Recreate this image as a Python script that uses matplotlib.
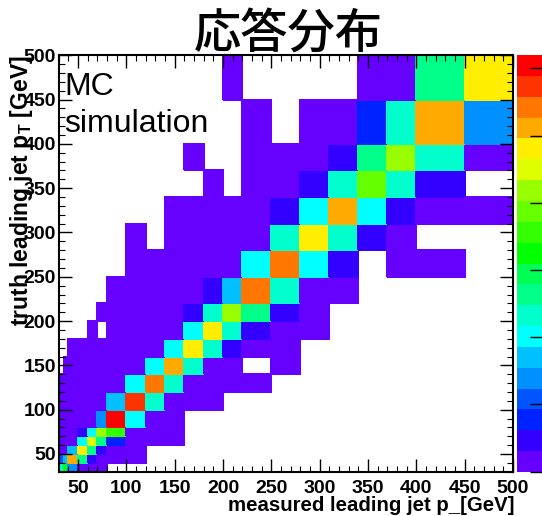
import numpy as np
import matplotlib
matplotlib.use("Agg")
import matplotlib.pyplot as plt
from matplotlib.colors import ListedColormap, BoundaryNorm

plt.rcParams['font.family'] = ['Liberation Sans', 'DejaVu Sans']
plt.rcParams['mathtext.fontset'] = 'custom'
plt.rcParams['mathtext.rm'] = 'Liberation Sans:bold'
plt.rcParams['mathtext.bf'] = 'Liberation Sans:bold'

# ---------------- data ----------------
title = "応答分布"
xlabel = "measured leading jet p_[GeV]"
ylabel = "truth leading jet p$_\\mathrm{T}$ [GeV]"
label_lines = ["MC", "simulation"]

x_edges = [30, 35, 40, 50, 60, 70, 80, 100, 120, 140, 160, 180, 200, 220, 250, 280, 310, 340, 370, 400, 450, 500]
y_edges = [30, 40, 50, 60, 70, 80, 100, 120, 140, 160, 180, 200, 220, 250, 280, 310, 340, 370, 400, 450, 500]
major_ticks = [50, 100, 150, 200, 250, 300, 350, 400, 450, 500]
tick_labels = ["50", "100", "150", "200", "250", "300", "350", "400", "450", "500"]

# colour level (1..20) of each cell, 0 = empty; rows from bottom (30-40) to top (450-500)
row_30_40   = [8, 11, 5, 1, 1, 1, 0, 0, 0, 0, 0, 0, 0, 0, 0, 0, 0, 0, 0, 0, 0]
row_40_50   = [4, 6, 17, 9, 2, 1, 1, 1, 0, 0, 0, 0, 0, 0, 0, 0, 0, 0, 0, 0, 0]
row_50_60   = [1, 1, 6, 16, 9, 2, 1, 1, 0, 0, 0, 0, 0, 0, 0, 0, 0, 0, 0, 0, 0]
row_60_70   = [1, 1, 1, 7, 15, 9, 3, 1, 1, 1, 0, 0, 0, 0, 0, 0, 0, 0, 0, 0, 0]
row_70_80   = [1, 1, 1, 2, 7, 14, 12, 1, 1, 1, 0, 0, 0, 0, 0, 0, 0, 0, 0, 0, 0]
row_80_100  = [1, 1, 1, 1, 1, 5, 20, 7, 1, 1, 0, 0, 0, 0, 0, 0, 0, 0, 0, 0, 0]
row_100_120 = [1, 1, 1, 1, 1, 1, 6, 19, 8, 1, 1, 1, 0, 0, 0, 0, 0, 0, 0, 0, 0]
row_120_140 = [1, 1, 1, 1, 1, 1, 1, 7, 18, 8, 1, 1, 1, 1, 0, 0, 0, 0, 0, 0, 0]
row_140_160 = [0, 1, 1, 1, 1, 1, 1, 1, 7, 17, 8, 1, 1, 0, 1, 0, 0, 0, 0, 0, 0]
row_160_180 = [0, 0, 1, 1, 1, 1, 1, 1, 1, 7, 16, 8, 2, 1, 1, 0, 0, 0, 0, 0, 0]
row_180_200 = [0, 0, 0, 0, 1, 0, 1, 1, 1, 1, 7, 16, 8, 2, 1, 1, 0, 0, 0, 0, 0]
row_200_220 = [0, 0, 0, 0, 0, 1, 1, 1, 1, 1, 2, 8, 14, 9, 2, 1, 0, 0, 0, 0, 0]
row_220_250 = [0, 0, 0, 0, 0, 0, 1, 1, 1, 1, 1, 2, 6, 18, 8, 1, 1, 0, 0, 0, 0]
row_250_280 = [0, 0, 0, 0, 0, 0, 0, 1, 1, 1, 1, 1, 1, 7, 18, 7, 2, 0, 1, 1, 0]
row_280_310 = [0, 0, 0, 0, 0, 0, 0, 1, 0, 1, 1, 1, 1, 1, 8, 16, 8, 2, 1, 0, 0]
row_310_340 = [0, 0, 0, 0, 0, 0, 0, 0, 0, 1, 1, 1, 1, 1, 2, 7, 17, 7, 2, 1, 1]
row_340_370 = [0, 0, 0, 0, 0, 0, 0, 0, 0, 0, 0, 1, 0, 1, 1, 2, 8, 13, 8, 2, 0]
row_370_400 = [0, 0, 0, 0, 0, 0, 0, 0, 0, 0, 1, 0, 0, 1, 1, 1, 2, 9, 14, 8, 1]
row_400_450 = [0, 0, 0, 0, 0, 0, 0, 0, 0, 0, 0, 0, 0, 1, 0, 1, 1, 3, 8, 17, 5]
row_450_500 = [0, 0, 0, 0, 0, 0, 0, 0, 0, 0, 0, 0, 1, 0, 0, 0, 0, 1, 1, 9, 16]

palette = ["#6600ff", "#3300ff", "#0022ff", "#0055ff", "#0090ff", "#00c0ff", "#00ffff",
           "#00ffcc", "#00ff88", "#00ff55", "#00ff00", "#33ff00", "#66ff00", "#99ff00",
           "#ddff00", "#ffee00", "#ffaa00", "#ff7700", "#ff3300", "#ff0000"]
cbar_ticks = [0.0, 0.1614, 0.3228, 0.4842, 0.6456, 0.807, 0.9684]

# ---------------- plot ----------------
rows = [row_30_40, row_40_50, row_50_60, row_60_70, row_70_80, row_80_100, row_100_120,
        row_120_140, row_140_160, row_160_180, row_180_200, row_200_220, row_220_250,
        row_250_280, row_280_310, row_310_340, row_340_370, row_370_400, row_400_450,
        row_450_500]
Z = np.ma.masked_equal(np.array(rows, dtype=float), 0)

W, H = 542, 516
fig = plt.figure(figsize=(W / 100, H / 100), dpi=100)
L, R, T, B = 58.7, 513.0, 55.3, 471.7
ax = fig.add_axes([L / W, 1 - B / H, (R - L) / W, (B - T) / H])

cmap = ListedColormap(palette)
norm = BoundaryNorm(np.arange(0.5, len(palette) + 1.0, 1.0), cmap.N)
ax.pcolormesh(x_edges, y_edges, Z, cmap=cmap, norm=norm, shading='flat',
              edgecolors='face', linewidth=0.3)
ax.set_xlim(30, 500)
ax.set_ylim(30, 500)
ax.set_xticks(major_ticks)
ax.set_xticklabels(tick_labels)
ax.set_yticks(major_ticks)
ax.set_yticklabels(tick_labels)
ax.set_xticks(np.arange(30, 501, 10), minor=True)
ax.set_yticks(np.arange(30, 501, 10), minor=True)
ax.tick_params(which='major', direction='in', length=9.5, width=1.0, top=True, right=True,
               labelsize=14, pad=6)
ax.tick_params(axis='y', which='major', pad=2)
ax.tick_params(which='minor', direction='in', length=4.5, width=0.8, top=True, right=True)
for lab in ax.get_xticklabels() + ax.get_yticklabels():
    lab.set_fontweight('bold')
for s in ax.spines.values():
    s.set_linewidth(1.5)

# colour bar
cax = fig.add_axes([517 / W, 1 - B / H, 28 / W, (B - T) / H])
cax.imshow(np.arange(len(palette)).reshape(-1, 1), cmap=ListedColormap(palette), origin='lower',
           aspect='auto', extent=[0, 1, 0, 1])
cax.set_xticks([])
cax.set_yticks(cbar_ticks)
cax.yaxis.tick_right()
cax.tick_params(axis='y', direction='in', length=11, width=1.0, labelright=False)
for s in cax.spines.values():
    s.set_visible(False)

# texts
fig.text(288 / W, 1 - 35 / H, title, ha='center', va='center', fontsize=34, fontweight='medium',
         family=['Noto Sans CJK JP', 'DejaVu Sans'])
fig.text(64 / W, 1 - 95 / H, label_lines[0], ha='left', va='baseline', fontsize=23)
fig.text(64 / W, 1 - 132 / H, label_lines[1], ha='left', va='baseline', fontsize=23)
fig.text(515 / W, 1 - 511 / H, xlabel, ha='right', va='baseline', fontsize=14.7, fontweight='bold')
fig.text(22 / W, 1 - 55 / H, ylabel, ha='center', va='top', rotation=90, fontsize=16.5,
         fontweight='bold')

fig.savefig("out.png", dpi=100)
